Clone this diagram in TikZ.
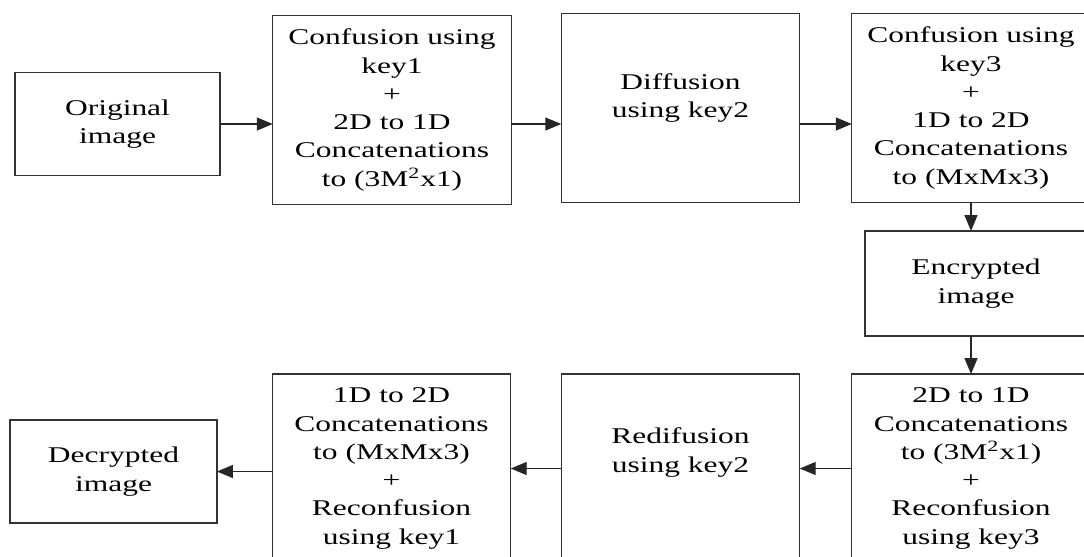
\documentclass[tikz,border=0pt]{standalone}
\usepackage{fontspec}
\setmainfont{Liberation Serif}[FakeStretch=1.4]
\usepackage{tikz}
\usetikzlibrary{arrows.meta}

\begin{document}
\begin{tikzpicture}[x=0.02cm, y=-0.02cm,
  every node/.style={draw=black!80, line width=0.8pt, align=center, inner sep=0pt, outer sep=0pt,
    font=\fontsize{12.8}{16.1}\selectfont},
  bigbox/.style={minimum width=4.77cm, minimum height=3.78cm},
  imgbox/.style={minimum width=4.1cm, minimum height=2.06cm},
  raised/.style={draw=none, yshift=#1},
  >={Triangle[length=0.32cm,width=0.26cm]}]
\clip (0,0) rectangle (1084,556);

\node[imgbox] (orig) at (117.5,124) {Original\\image};
\node[bigbox] (conf1) at (392,110) {Confusion using\\key1\\+\\2D to 1D\\Concatenations\\to (3M\textsuperscript{2}x1)};
\node[bigbox, label={[raised=0.2cm]center:Diffusion\\using key2}] (diff) at (680.5,108) {};
\node[bigbox] (conf3) at (971,108) {Confusion using\\key3\\+\\1D to 2D\\Concatenations\\to (MxMx3)};
\node[imgbox, minimum width=4.44cm, minimum height=2.1cm] (enc) at (976,283.5) {Encrypted\\image};

\node[bigbox] (flat) at (971,468.5) {2D to 1D\\Concatenations\\to (3M\textsuperscript{2}x1)\\+\\Reconfusion\\using key3};
\node[bigbox, label={[raised=0.32cm]center:Redifusion\\using key2}] (redif) at (680.5,468.5) {};
\node[bigbox] (unflat) at (391.5,468.5) {1D to 2D\\Concatenations\\to (MxMx3)\\+\\Reconfusion\\using key1};
\node[imgbox, minimum width=4.14cm] (dec) at (113.5,471.5) {Decrypted\\image};

\draw[->, line width=0.8pt, black!85] (orig.east) -- (orig.east -| conf1.west);
\draw[->, line width=0.8pt, black!85] (conf1.east |- orig.east) -- (diff.west |- orig.east);
\draw[->, line width=0.8pt, black!85] (diff.east |- orig.east) -- (conf3.west |- orig.east);
\draw[->, line width=0.8pt, black!85] (conf3.south) -- (conf3.south |- enc.north);
\draw[->, line width=0.8pt, black!85] (flat.north |- enc.south) -- (flat.north);
\draw[->, line width=0.8pt, black!85] (flat.west) -- (redif.east);
\draw[->, line width=0.8pt, black!85] (redif.west) -- (unflat.east);
\draw[->, line width=0.8pt, black!85] (unflat.west |- dec.east) -- (dec.east);
\end{tikzpicture}
\end{document}
